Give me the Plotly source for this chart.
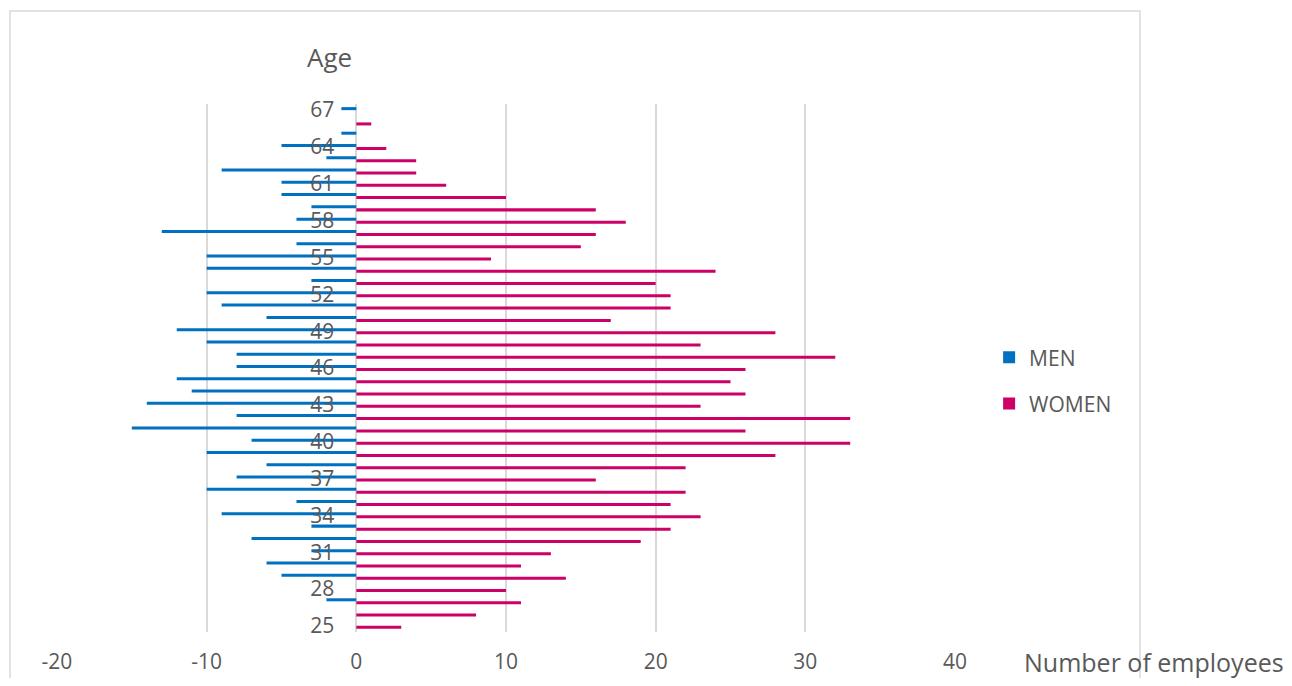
import plotly.graph_objects as go

# Age pyramid of employees: men drawn to the left, women to the right
ages = list(range(25, 68))

men = [0, 0, 2, 0, 5, 6, 3, 7, 3, 9, 4, 10, 8, 6, 10, 7, 15, 8, 14, 11, 12, 8,
       8, 10, 12, 6, 9, 10, 3, 10, 10, 4, 13, 4, 3, 5, 5, 9, 2, 5, 1, 0, 1]
women = [3, 8, 11, 10, 14, 11, 13, 19, 21, 23, 21, 22, 16, 22, 28, 33, 26, 33,
         23, 26, 25, 26, 32, 23, 28, 17, 21, 21, 20, 24, 9, 15, 16, 18, 16, 10,
         6, 4, 4, 2, 0, 1, 0]

x_ticks = [-20, -10, 0, 10, 20, 30, 40]
age_ticks = list(range(25, 68, 3))

FONT = "Open Sans"
GREY = "#595959"
GRID = "#d9d9d9"
BLUE = "#0070C0"
PINK = "#CC0066"

fig = go.Figure()

# women first so they sit just below the men bar in each age group
fig.add_trace(go.Bar(
    x=women, y=ages, orientation="h", name="WOMEN",
    marker=dict(color=PINK, line=dict(width=0)),
    legendgroup="w", legendrank=2,
))
fig.add_trace(go.Bar(
    x=[-m for m in men], y=ages, orientation="h", name="MEN",
    marker=dict(color=BLUE, line=dict(width=0)),
    legendgroup="m", legendrank=1,
))

# page body adds an 8px margin, so the figure is sized to fit inside it
fig.update_layout(
    width=1284, height=670,
    barmode="group", bargap=0.51, bargroupgap=0,
    plot_bgcolor="white", paper_bgcolor="white",
    font=dict(family=FONT, color=GREY),
    margin=dict(l=49, r=337, t=96, b=46, autoexpand=False),
    xaxis=dict(
        range=[-20, 40], tickvals=x_ticks, ticktext=[str(v) for v in x_ticks],
        showgrid=True, gridcolor=GRID, gridwidth=1.5,
        zeroline=True, zerolinecolor=GRID, zerolinewidth=1.5,
        showline=False, ticks="", tickfont=dict(size=21, color=GREY),
        ticklabelstandoff=15, fixedrange=True, automargin=False,
    ),
    yaxis=dict(
        range=[24.5, 67.5], tickvals=age_ticks,
        anchor="free", position=20 / 60, side="left",
        showgrid=False, zeroline=False, showline=False, ticks="",
        tickfont=dict(size=21, color=GREY), ticklabelstandoff=22,
        automargin=False,
    ),
    legend=dict(
        x=1.038, xanchor="left", y=0.476, yanchor="middle",
        font=dict(size=21, color=GREY), tracegroupgap=16,
        itemwidth=30, bgcolor="rgba(0,0,0,0)",
    ),
    annotations=[
        dict(text="Age", xref="paper", yref="paper", x=0.304, y=1.089,
             xanchor="center", yanchor="middle", showarrow=False,
             font=dict(size=26, color=GREY)),
        dict(text="Number of employees", xref="paper", yref="paper",
             x=1.075, y=-0.0568, xanchor="left", yanchor="middle",
             showarrow=False, font=dict(size=25, color=GREY)),
    ],
    shapes=[
        dict(type="rect", xref="paper", yref="paper",
             x0=-0.0523, x1=1.206, y0=-0.2, y1=1.176,
             line=dict(color=GRID, width=1.5), layer="below"),
    ],
)

fig.write_html("out.html")
